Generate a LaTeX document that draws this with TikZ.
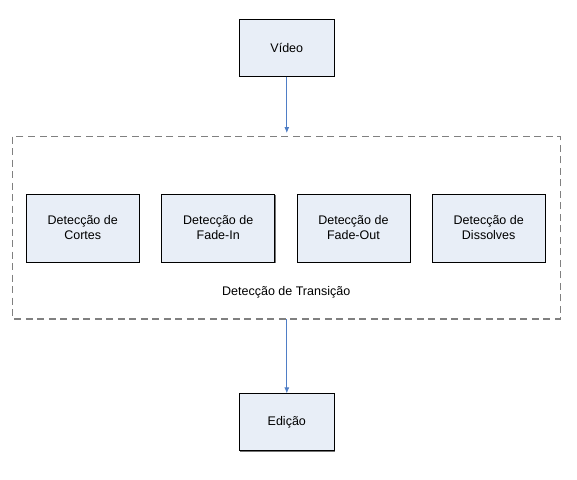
\documentclass[tikz,border=0pt]{standalone}
\usepackage{fontspec}
\setmainfont{Liberation Sans}
\usepackage{tikz}
\usepackage{xcolor}
\usetikzlibrary{arrows.meta,shadows}
\definecolor{boxfill}{HTML}{E8EEF7}
\definecolor{flowblue}{HTML}{4F7EC6}
\tikzset{
    step-box/.style = {draw=black, fill=boxfill, line width=0.7pt, rectangle, minimum width=95pt, minimum height=57pt, align=center, font=\fontsize{12.5}{15}\selectfont,
        drop shadow={shadow xshift=1pt, shadow yshift=-1pt, fill=black!55, opacity=1}},
    sub-box/.style = {step-box, minimum width=113pt, minimum height=68pt},
    group-box/.style = {draw=black!50, line width=1.2pt, dash pattern=on 7pt off 4.5pt},
    flow/.style = {draw=flowblue, line width=0.8pt, -{Latex[length=6pt,width=5pt]}},
}

\begin{document}
\begin{tikzpicture}[x=1pt, y=-1pt]
\useasboundingbox (0,0) rectangle (577,479);
\draw[group-box] (12.7,136.7) rectangle (560.3,319);
\node [step-box] (video) at (286.8,47.7) {Vídeo};
\node [sub-box] (cortes) at (82.7,228) {Detecção de\\Cortes};
\node [sub-box] (fadein) at (218.2,228) {Detecção de\\Fade-In};
\node [sub-box] (fadeout) at (353.4,228) {Detecção de\\Fade-Out};
\node [sub-box] (dissolves) at (488.7,228) {Detecção de\\Dissolves};
\node [font=\fontsize{12.5}{15}\selectfont] (transicao) at (286.2,292) {Detecção de Transição};
\coordinate (grouptop) at (286.8,133);
\coordinate (groupbottom) at (286.8,319);
\node [step-box] (edicao) at (286.8,422.2) {Edição};
\draw[flow] (video) -- (grouptop);
\draw[flow] (groupbottom) -- (edicao);
\end{tikzpicture}
\end{document}
